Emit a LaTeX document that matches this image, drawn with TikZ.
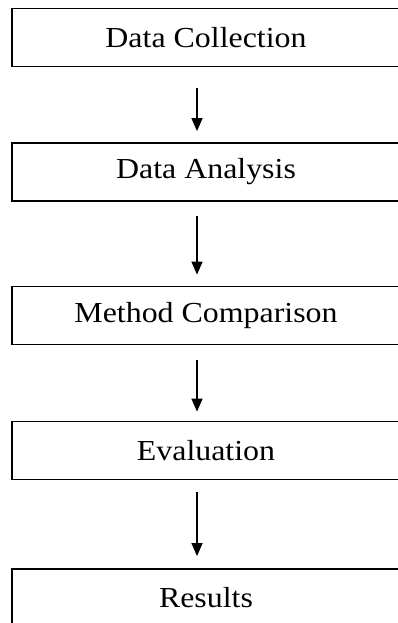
\documentclass[tikz,border=0pt]{standalone}
\usepackage{fontspec}
\setmainfont{Liberation Serif}
\usepackage{tikz}
\usetikzlibrary{arrows.meta}

\newcommand{\wide}[1]{\scalebox{1.1}[1]{#1}}

\begin{document}
\begin{tikzpicture}[x=1pt,y=-1pt]

		\tikzset{
		    stage/.style={draw, line width=1.8pt, rectangle, minimum width=388pt,
		        minimum height=58pt, inner sep=0pt, font=\fontsize{29}{33}\selectfont},
		    flow/.style={line width=1.4pt, -{Triangle[length=13pt,width=11pt]}}
		}

		% frame of the picture
		\useasboundingbox (0,0) rectangle (398,623);
		\clip (0,0) rectangle (398,623);

		% stages
		\node[stage] (collect) at (206,37.5) {\wide{Data Collection}};
		\node[stage] (analyse) at (206,172) {\wide{Data Analysis}};
		\node[stage] (compare) at (206,315.5) {\wide{Method Comparison}};
		\node[stage] (evaluate) at (206,450.5) {\wide{Evaluation}};
		\node[stage] (results) at (206,598) {\wide{Results}};

		% arrows between stages
		\draw[flow, shorten <=21pt, shorten >=11pt] ([xshift=-9pt]collect.south) -- ([xshift=-9pt]analyse.north);
		\draw[flow, shorten <=14pt, shorten >=11pt] ([xshift=-9pt]analyse.south) -- ([xshift=-9pt]compare.north);
		\draw[flow, shorten <=15pt, shorten >=9pt] ([xshift=-9pt]compare.south) -- ([xshift=-9pt]evaluate.north);
		\draw[flow, shorten <=12pt, shorten >=12pt] ([xshift=-9pt]evaluate.south) -- ([xshift=-9pt]results.north);

\end{tikzpicture}
\end{document}
